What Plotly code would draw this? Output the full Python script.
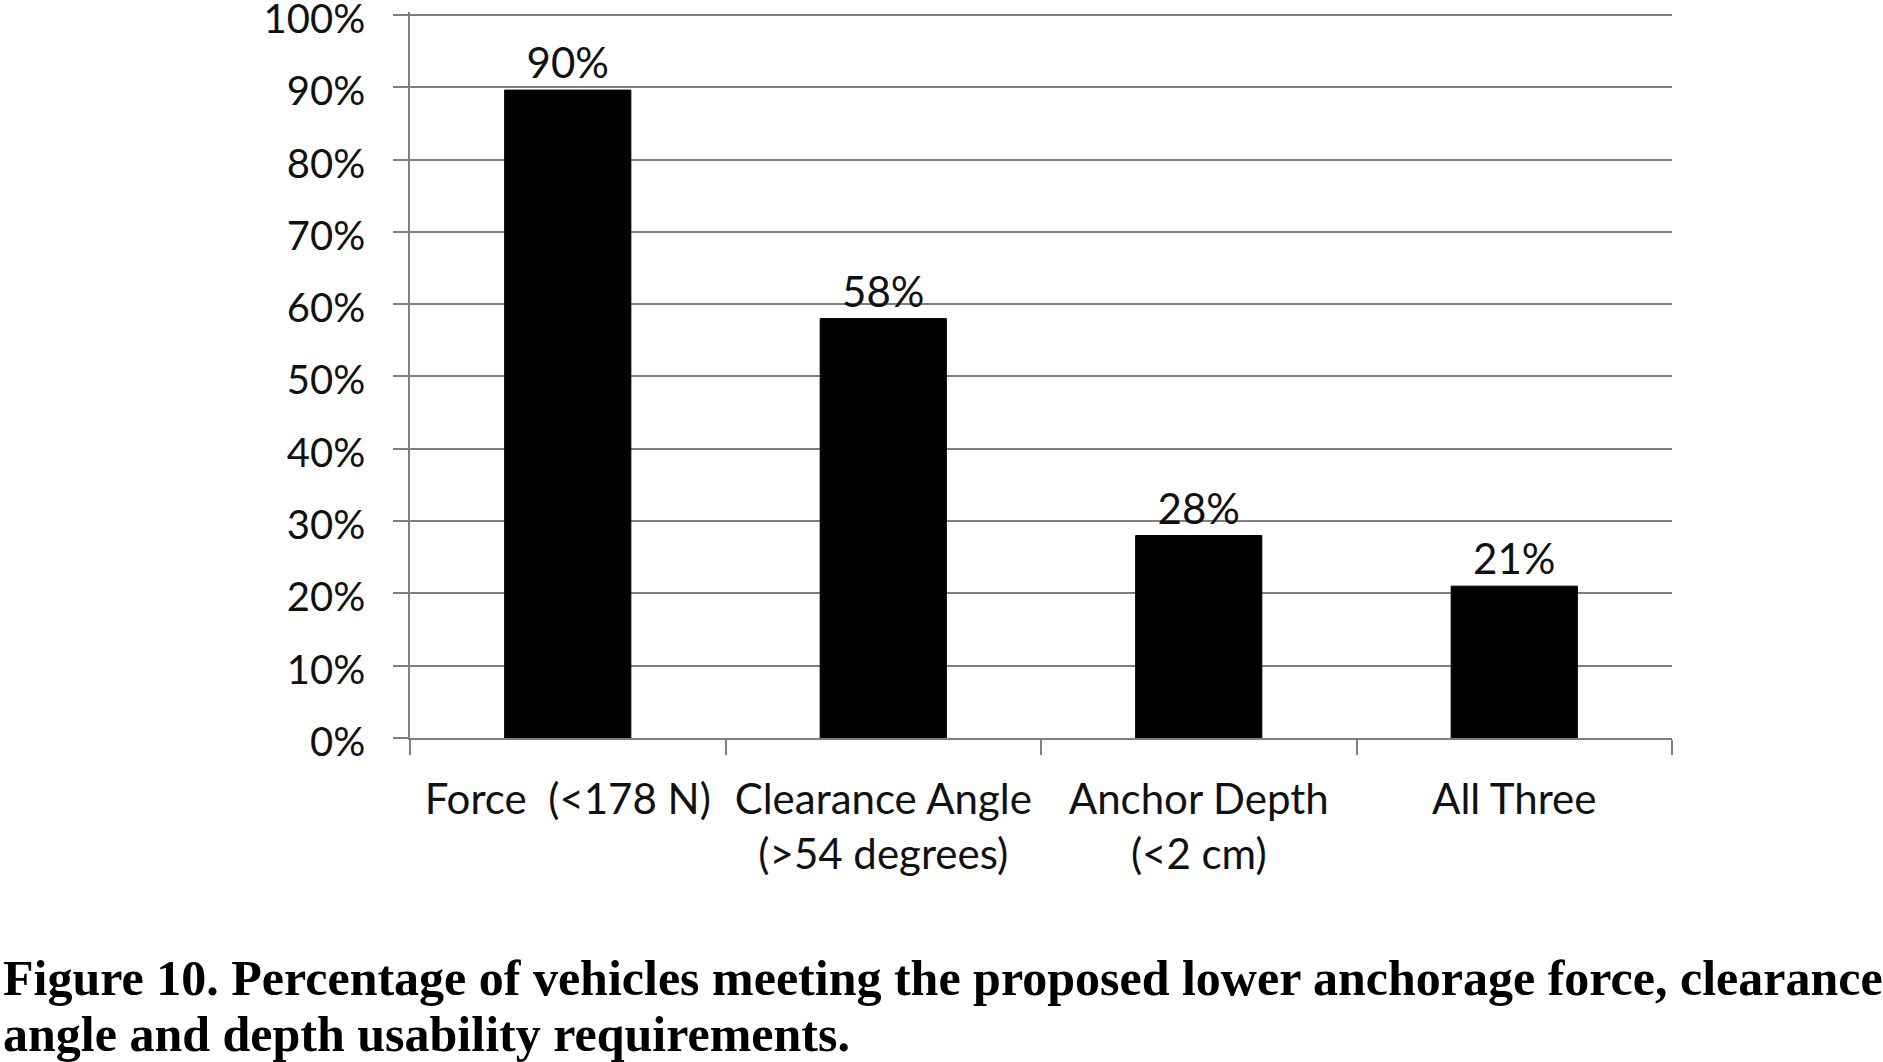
import plotly.graph_objects as go

categories = ["Force  (<178 N)", "Clearance Angle<br>(>54 degrees)", "Anchor Depth<br>(<2 cm)", "All Three"]
values = [0.896, 0.58, 0.28, 0.21]
y_ticks = [0, 0.1, 0.2, 0.3, 0.4, 0.5, 0.6, 0.7, 0.8, 0.9, 1.0]
caption_lines = [
    "Figure 10. Percentage of vehicles meeting the proposed lower anchorage force, clearance",
    "angle and depth usability requirements.",
]

W, H = 1883, 1062
y_top = 1.004
L, R, T, B = 410, 211, 12, 324
plot_h = H - T - B
plot_w = W - L - R

grid_color = "#7f7f7f"
tick_font = dict(family="Lato, sans-serif", size=40, color="#111111")
cat_font = dict(family="Lato, sans-serif", size=42, color="#111111")

fig = go.Figure()
fig.add_trace(go.Bar(
    x=categories,
    y=values,
    marker=dict(color="black", line=dict(color="black", width=1)),
    width=0.4,
    texttemplate="%{y:.0%}",
    textposition="outside",
    textfont=cat_font,
    cliponaxis=False,
    hoverinfo="skip",
))

fig.update_layout(
    width=W, height=H,
    margin=dict(l=L, r=R, t=T, b=B, autoexpand=False),
    paper_bgcolor="white",
    plot_bgcolor="white",
    showlegend=False,
    bargap=0.6,
    font=tick_font,
)

fig.update_yaxes(
    range=[0, y_top],
    tickvals=y_ticks,
    tickformat=".0%",
    showgrid=True, gridcolor=grid_color, gridwidth=1.5,
    showline=True, linecolor=grid_color, linewidth=1.5,
    ticks="outside", ticklen=15, tickcolor=grid_color, tickwidth=1.5,
    tickfont=tick_font,
    ticklabelstandoff=20,
    ticklabelshift=4,
    ticklabeloverflow="allow",
    zeroline=False,
    automargin=False,
    fixedrange=True,
)
fig.update_xaxes(
    showline=True, linecolor=grid_color, linewidth=1.5,
    ticks="outside", ticklen=15, tickcolor=grid_color, tickwidth=1.5,
    tickson="boundaries",
    tickfont=cat_font,
    ticklabelstandoff=24,
    showgrid=False,
    automargin=False,
    fixedrange=True,
)

caption_y = [978, 1034]
for line, yc in zip(caption_lines, caption_y):
    fig.add_annotation(
        text="<b>" + line + "</b>",
        xref="paper", yref="paper",
        x=(1 - L) / plot_w, y=(H - B - yc) / plot_h,
        xanchor="left", yanchor="middle",
        showarrow=False,
        font=dict(family="Liberation Serif, Times New Roman, serif", size=50, color="black"),
    )

fig.write_html(
    "out.html",
    config={"displayModeBar": False},
    post_script="document.body.style.margin='0';document.body.style.overflow='hidden';",
)
